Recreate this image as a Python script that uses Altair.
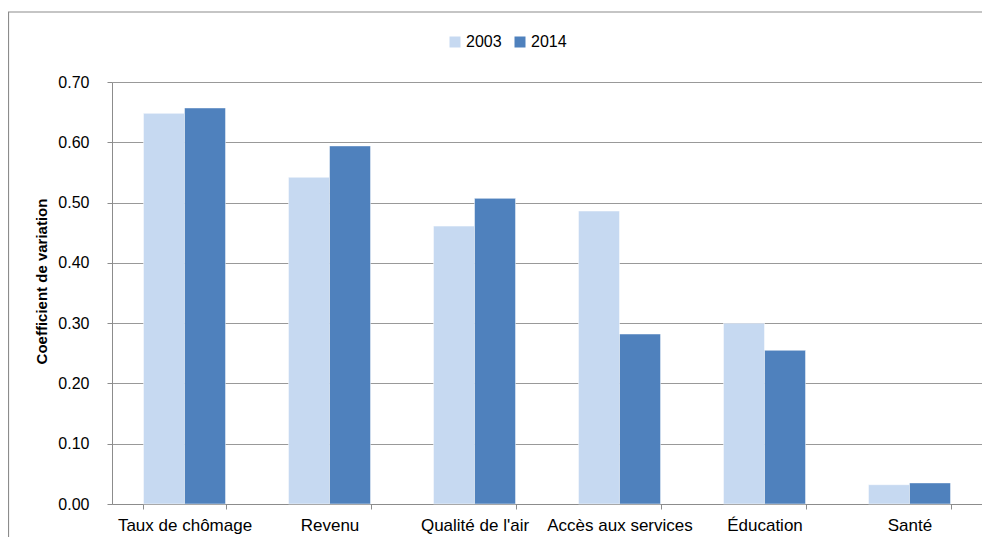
import altair as alt
import pandas as pd

categories = ["Taux de chômage", "Revenu", "Qualité de l'air", "Accès aux services", "Éducation", "Santé"]
years = ["2003", "2014"]
values_2003 = [0.648, 0.542, 0.461, 0.486, 0.300, 0.032]
values_2014 = [0.657, 0.594, 0.507, 0.282, 0.255, 0.035]
y_ticks = [0.0, 0.1, 0.2, 0.3, 0.4, 0.5, 0.6, 0.7]
colors = ["#c6d9f1", "#4f81bd"]

rows = []
for c, a, b in zip(categories, values_2003, values_2014):
    rows.append({"cat": c, "year": "2003", "v": a})
    rows.append({"cat": c, "year": "2014", "v": b})
df = pd.DataFrame(rows)

FONT = "Liberation Sans"

bars = alt.Chart(df).mark_bar(stroke="white", strokeWidth=0.5).encode(
    x=alt.X("cat:N", sort=categories, title=None,
            scale=alt.Scale(paddingInner=0.434, paddingOuter=0.217),
            axis=alt.Axis(labelAngle=0, tickBand="extent", tickSize=5,
                          labelPadding=8, labelFontSize=17, labelColor="#000000",
                          domainColor="#8c8c8c", tickColor="#8c8c8c",
                          labelFont=FONT, grid=False)),
    xOffset=alt.XOffset("year:N", sort=years, scale=alt.Scale(paddingInner=0, paddingOuter=0)),
    y=alt.Y("v:Q", title="Coefficient de variation",
            scale=alt.Scale(domain=[0, 0.7], nice=False),
            axis=alt.Axis(values=y_ticks, format=".2f", tickSize=5, labelPadding=18,
                          labelFontSize=16, labelColor="#000000", labelFont=FONT,
                          domainColor="#8c8c8c", tickColor="#8c8c8c",
                          gridColor="#999999", gridWidth=1,
                          titleFont=FONT, titleFontSize=15, titleFontWeight="bold",
                          titleColor="#000000", titlePadding=8, titleY=199)),
    color=alt.Color("year:N", sort=years, title=None,
                    scale=alt.Scale(domain=years, range=colors),
                    legend=alt.Legend(orient="none", legendX=335, legendY=-48,
                                      direction="horizontal", symbolType="square",
                                      symbolSize=121, symbolStrokeWidth=0,
                                      labelFontSize=16, labelFont=FONT, labelColor="#000000",
                                      labelOffset=3, columnPadding=10)),
)

border = alt.Chart(alt.Data(values=[{}])).mark_rect(
    fillOpacity=0, stroke="#8c8c8c", strokeWidth=1.2
).encode(
    x=alt.value(-103.5), x2=alt.value(1200), y=alt.value(-70), y2=alt.value(800)
)

chart = alt.layer(border, bars).properties(
    width=870, height=422,
    autosize=alt.AutoSizeParams(type="none"),
    padding={"left": 104, "top": 74, "right": 0, "bottom": 33},
    background="white",
).configure_view(stroke=None)

chart.save("out.html", embed_options={"renderer": "svg", "actions": False})
